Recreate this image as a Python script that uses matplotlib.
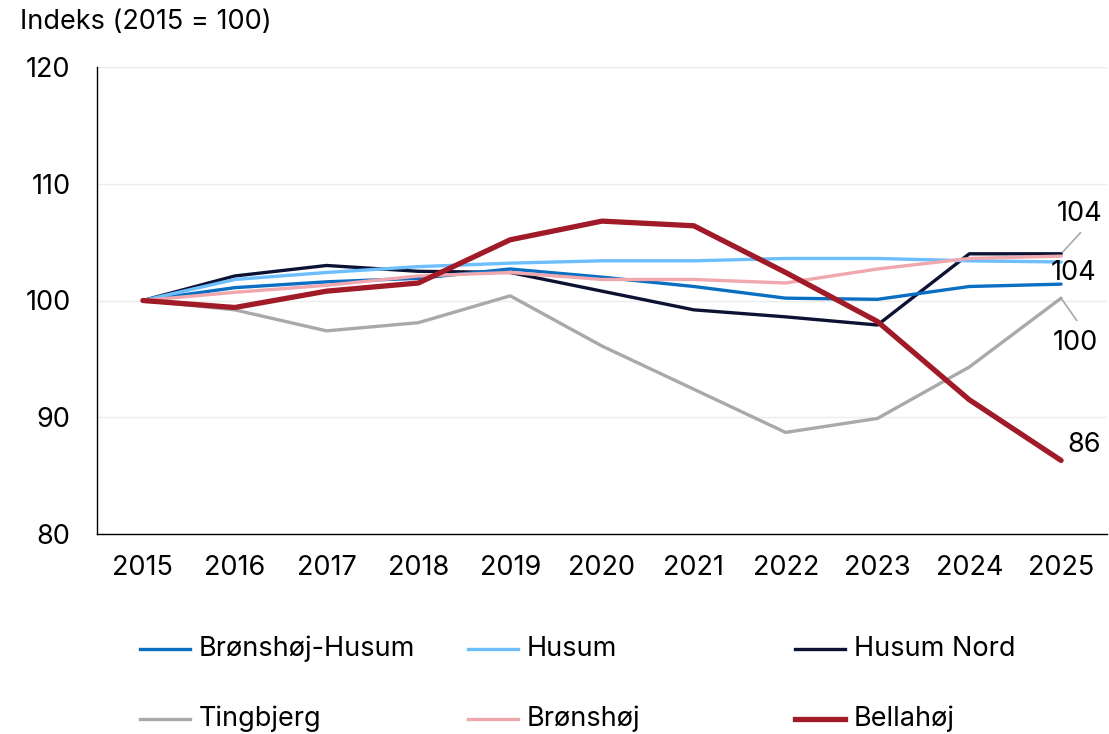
import matplotlib.pyplot as plt
from matplotlib.lines import Line2D

plt.rcParams["font.family"] = ["Inter", "DejaVu Sans"]

years = [2015, 2016, 2017, 2018, 2019, 2020, 2021, 2022, 2023, 2024, 2025]

bronshoj_husum = [100, 101.1, 101.6, 101.9, 102.7, 102.0, 101.2, 100.2, 100.1, 101.2, 101.4]
husum = [100, 101.8, 102.4, 102.9, 103.2, 103.4, 103.4, 103.6, 103.6, 103.4, 103.3]
husum_nord = [100, 102.1, 103.0, 102.5, 102.4, 100.8, 99.2, 98.6, 97.9, 104.0, 104.0]
tingbjerg = [100, 99.2, 97.4, 98.1, 100.4, 96.1, 92.4, 88.7, 89.9, 94.3, 100.2]
bronshoj = [100, 100.7, 101.3, 102.1, 102.4, 101.8, 101.8, 101.5, 102.7, 103.6, 103.8]
bellahoj = [100, 99.4, 100.8, 101.5, 105.2, 106.8, 106.4, 102.4, 98.2, 91.5, 86.3]

series = [
    ("Brønshøj-Husum", bronshoj_husum, "#0a6fc2", 2.4),
    ("Husum", husum, "#6cbffc", 2.4),
    ("Husum Nord", husum_nord, "#0b1233", 2.4),
    ("Tingbjerg", tingbjerg, "#a9a9a9", 2.4),
    ("Brønshøj", bronshoj, "#f0a7ae", 2.4),
    ("Bellahøj", bellahoj, "#a01a28", 3.8),
]
draw_order = [3, 2, 0, 1, 4, 5]

end_labels = ["104", "104", "100", "86"]

FS = 19.5
W, H = 1109, 734
fig = plt.figure(figsize=(W / 100, H / 100), dpi=100)
ax = fig.add_axes([97 / W, 1 - 534 / H, (1107 - 97) / W, (534 - 67) / H])

x = list(range(len(years)))
for i in draw_order:
    name, vals, col, lw = series[i]
    ax.plot(x, vals, color=col, lw=lw, solid_capstyle="round",
            solid_joinstyle="round", zorder=3 + (i == 5))

ax.set_xlim(-0.5, len(years) - 0.5)
ax.set_ylim(80, 120)
ax.set_yticks([80, 90, 100, 110, 120])
ax.set_xticks(x)
ax.set_xticklabels([str(y) for y in years])
ax.tick_params(axis="both", length=0, labelsize=FS)
ax.tick_params(axis="y", pad=19)
ax.tick_params(axis="x", pad=15)
ax.grid(axis="y", color="#ececec", lw=1)
ax.set_axisbelow(True)
for s in ["top", "right"]:
    ax.spines[s].set_visible(False)
ax.spines["left"].set_linewidth(1)
ax.spines["bottom"].set_linewidth(1)

# end labels with leader lines
last = len(years) - 1
gray = "#a9a9a9"
ax.plot([last, last + 0.21], [husum_nord[-1], 105.8], color=gray, lw=1.2, clip_on=False)
ax.text(last + 0.2, 107.4, end_labels[0], fontsize=FS, ha="center", va="center")
ax.text(last + 0.14, 102.35, end_labels[1], fontsize=FS, ha="center", va="center")
ax.plot([last, last + 0.17], [tingbjerg[-1], 98.3], color=gray, lw=1.2, clip_on=False)
ax.text(last + 0.16, 96.4, end_labels[2], fontsize=FS, ha="center", va="center")
ax.text(last + 0.25, 87.6, end_labels[3], fontsize=FS, ha="center", va="center")

fig.text(20 / W, 1 - 22 / H, "Indeks (2015 = 100)", fontsize=FS, ha="left", va="center")

# legend, 3 columns x 2 rows
cols = [140, 468, 795]
rows = [649, 719]
for k, (name, vals, col, lw) in enumerate(series):
    cx = cols[k % 3]
    cy = 1 - rows[k // 3] / H
    fig.add_artist(Line2D([cx / W, (cx + 50) / W], [cy, cy], color=col, lw=lw,
                          transform=fig.transFigure))
    fig.text((cx + 59) / W, cy, name, fontsize=FS, ha="left", va="center")

fig.savefig("out.png", dpi=100)
